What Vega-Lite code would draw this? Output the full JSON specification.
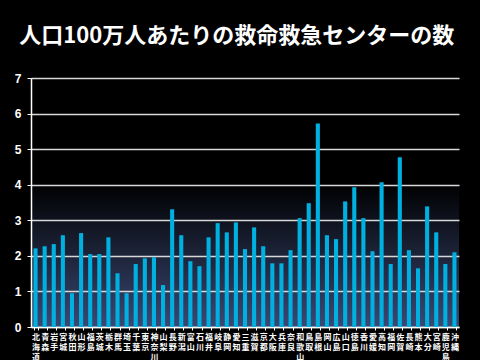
{
  "$schema": "https://vega.github.io/schema/vega-lite/v6.json",
  "width": 428,
  "height": 249,
  "background": "#000000",
  "padding": {"top": 25, "left": 14, "right": 22, "bottom": 0},
  "title": {
    "text": "人口100万人あたりの救命救急センターの数",
    "font": "Noto Sans CJK JP",
    "fontSize": 22,
    "fontWeight": "bold",
    "color": "#ffffff",
    "anchor": "middle",
    "frame": "bounds",
    "offset": 24
  },
  "data": {
    "values": [
      {"pref": "北海道", "v": 2.21},
      {"pref": "青森", "v": 2.27},
      {"pref": "岩手", "v": 2.33},
      {"pref": "宮城", "v": 2.58},
      {"pref": "秋田", "v": 0.95},
      {"pref": "山形", "v": 2.64},
      {"pref": "福島", "v": 2.05},
      {"pref": "茨城", "v": 2.05},
      {"pref": "栃木", "v": 2.52},
      {"pref": "群馬", "v": 1.51},
      {"pref": "埼玉", "v": 0.95},
      {"pref": "千葉", "v": 1.77},
      {"pref": "東京", "v": 1.93},
      {"pref": "神奈川", "v": 1.96},
      {"pref": "山梨", "v": 1.18},
      {"pref": "長野", "v": 3.31},
      {"pref": "新潟", "v": 2.58},
      {"pref": "富山", "v": 1.85},
      {"pref": "石川", "v": 1.71},
      {"pref": "福井", "v": 2.52},
      {"pref": "岐阜", "v": 2.92},
      {"pref": "静岡", "v": 2.66},
      {"pref": "愛知", "v": 2.94},
      {"pref": "三重", "v": 2.19},
      {"pref": "滋賀", "v": 2.80},
      {"pref": "京都", "v": 2.27},
      {"pref": "大阪", "v": 1.79},
      {"pref": "兵庫", "v": 1.79},
      {"pref": "奈良", "v": 2.16},
      {"pref": "和歌山", "v": 3.06},
      {"pref": "鳥取", "v": 3.48},
      {"pref": "島根", "v": 5.72},
      {"pref": "岡山", "v": 2.58},
      {"pref": "広島", "v": 2.47},
      {"pref": "山口", "v": 3.53},
      {"pref": "徳島", "v": 3.93},
      {"pref": "香川", "v": 3.06},
      {"pref": "愛媛", "v": 2.13},
      {"pref": "高知", "v": 4.07},
      {"pref": "福岡", "v": 1.77},
      {"pref": "佐賀", "v": 4.77},
      {"pref": "長崎", "v": 2.16},
      {"pref": "熊本", "v": 1.65},
      {"pref": "大分", "v": 3.39},
      {"pref": "宮崎", "v": 2.66},
      {"pref": "鹿児島", "v": 1.77},
      {"pref": "沖縄", "v": 2.10}
    ]
  },
  "mark": {"type": "bar", "color": "#00b0e0"},
  "encoding": {
    "x": {
      "field": "pref",
      "type": "nominal",
      "sort": null,
      "scale": {"paddingInner": 0.55, "paddingOuter": 0.275},
      "axis": {
        "title": null,
        "labelAngle": 0,
        "labelExpr": "split(datum.label, '')",
        "labelFont": "Noto Sans CJK JP",
        "labelFontSize": 8,
        "labelFontWeight": "bold",
        "labelColor": "#ffffff",
        "labelLineHeight": 10,
        "labelPadding": 3,
        "labelBaseline": "top",
        "labelOverlap": false,
        "tickBand": "extent",
        "tickColor": "#ffffff",
        "tickSize": 3,
        "domainColor": "#ffffff",
        "domainWidth": 1.5
      }
    },
    "y": {
      "field": "v",
      "type": "quantitative",
      "scale": {"domain": [0, 7], "nice": false},
      "axis": {
        "title": null,
        "values": [0, 1, 2, 3, 4, 5, 6, 7],
        "labelFont": "Liberation Sans",
        "labelFontSize": 12,
        "labelFontWeight": "bold",
        "labelColor": "#ffffff",
        "labelPadding": 6,
        "tickColor": "#ffffff",
        "tickSize": 4,
        "domainColor": "#ffffff",
        "domainWidth": 1.5,
        "gridColor": "#d8d8d8",
        "gridWidth": 1.5
      }
    }
  },
  "config": {
    "view": {
      "stroke": null,
      "fill": {
        "gradient": "linear",
        "x1": 0, "y1": 0, "x2": 0, "y2": 1,
        "stops": [
          {"offset": 0, "color": "#000000"},
          {"offset": 0.42, "color": "#000000"},
          {"offset": 1, "color": "#3a4872"}
        ]
      }
    }
  }
}
